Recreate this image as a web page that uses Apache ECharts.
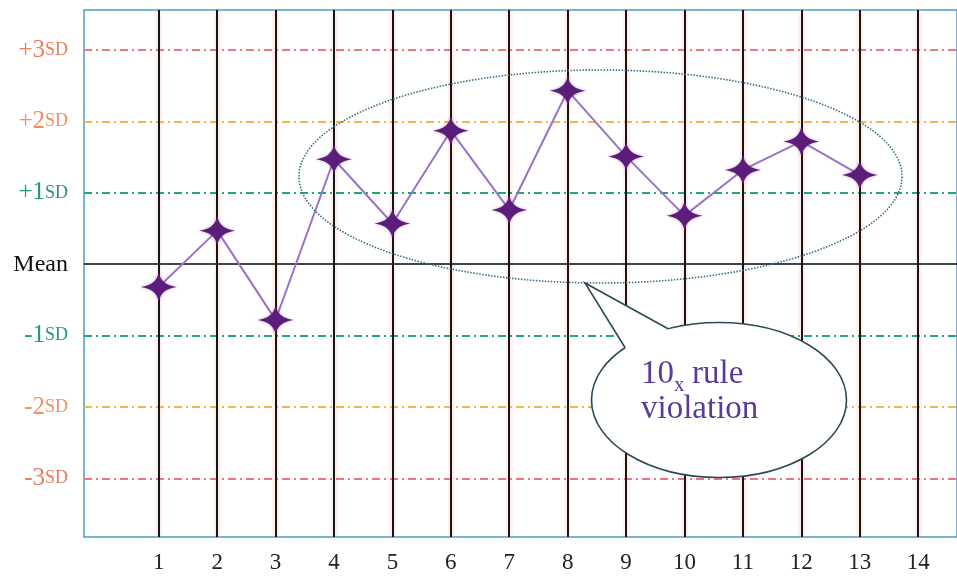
<!DOCTYPE html>
<html>
<head>
<meta charset="utf-8">
<script src="https://cdn.jsdelivr.net/npm/echarts@6/dist/echarts.min.js"></script>
<style>
html,body{margin:0;padding:0;background:#fff;}
#chart{width:957px;height:580px;}
</style>
</head>
<body>
<div id="chart"></div>
<script>
// ---- data ----
const categories = [1, 2, 3, 4, 5, 6, 7, 8, 9, 10, 11, 12, 13, 14];
const runValues = [-0.32, 0.47, -0.78, 1.47, 0.57, 1.87, 0.76, 2.43, 1.51, 0.68, 1.32, 1.72, 1.25];
const sdLevels = [-3, -2, -1, 0, 1, 2, 3];
const sdTickLabels = ['-3SD', '-2SD', '-1SD', 'Mean', '+1SD', '+2SD', '+3SD'];
const calloutLines = ['10', 'x', 'rule', 'violation'];

// ---- styles ----
const levelLineColor = {3: '#f07482', 2: '#f7b64c', 1: '#22a87c', 0: '#3c4848'};
const levelLabelStyle = {3: 'r', 2: 'o', 1: 'g', 0: 'm'};

const chart = echarts.init(document.getElementById('chart'), null, {renderer: 'canvas'});

const points = runValues.map((v, i) => [categories[i], v]);

const hLines = sdLevels.map(l => ({
  yAxis: l,
  lineStyle: l === 0
    ? {color: levelLineColor[0], width: 2, type: 'solid'}
    : {color: levelLineColor[Math.abs(l)], width: 2, type: [8, 4, 2, 4]}
}));
const vLines = categories.map(c => ({xAxis: c, lineStyle: {color: '#151515', width: 2, type: 'solid'}}));
const vHalo = categories.map(c => ({xAxis: c, lineStyle: {color: 'rgba(248,185,165,0.2)', width: 7, type: 'solid'}}));

const starPath = 'path://M0,-10 Q1.3,-1.3 12,0 Q1.3,1.3 0,10 Q-1.3,1.3 -12,0 Q-1.3,-1.3 0,-10 Z';

const serif = '"Liberation Serif", "DejaVu Serif", serif';

function labelRich(color, size) {
  return {color: color, fontFamily: serif, fontSize: size};
}

const textColor = '#5c3a98';

const option = {
  backgroundColor: '#fff',
  animation: false,
  grid: {
    left: 84, top: 10, right: -3, bottom: 43,
    show: true, borderColor: '#4a9fc0', borderWidth: 1.5, backgroundColor: '#fff'
  },
  xAxis: {
    type: 'value',
    min: -0.2796, max: 14.665,
    axisLine: {show: false},
    axisTick: {show: false},
    splitLine: {show: false},
    axisLabel: {
      customValues: categories,
      margin: 14,
      color: '#222',
      fontFamily: serif,
      fontSize: 23,
      formatter: v => String(v)
    }
  },
  yAxis: {
    type: 'value',
    min: -3.82, max: 3.56,
    axisLine: {show: false},
    axisTick: {show: false},
    splitLine: {show: false},
    axisLabel: {
      customValues: sdLevels,
      margin: 16,
      formatter: function (v) {
        const idx = sdLevels.indexOf(Math.round(v));
        if (idx < 0) return '';
        const txt = sdTickLabels[idx];
        const st = levelLabelStyle[Math.abs(Math.round(v))];
        if (txt === 'Mean') return '{m|Mean}';
        return '{' + st + '|' + txt.slice(0, 2) + '}{' + st + 's|SD}';
      },
      rich: {
        r: labelRich('#f07a5c', 25), rs: labelRich('#f07a5c', 18),
        o: labelRich('#f48e5e', 25), os: labelRich('#f48e5e', 18),
        g: labelRich('#1f9a78', 25), gs: labelRich('#1f9a78', 18),
        m: labelRich('#111', 24)
      }
    }
  },
  series: [
    {
      type: 'line',
      data: [],
      z: 1,
      silent: true,
      markLine: {
        silent: true, symbol: 'none', z: 1,
        label: {show: false},
        animation: false,
        data: vHalo
      }
    },
    {
      type: 'line',
      data: [],
      z: 2,
      silent: true,
      markLine: {
        silent: true, symbol: 'none', z: 2,
        label: {show: false},
        animation: false,
        data: hLines.concat(vLines)
      }
    },
    {
      type: 'line',
      data: points,
      z: 10,
      symbol: starPath,
      symbolSize: [36, 30],
      lineStyle: {color: '#9a72c8', width: 2},
      itemStyle: {color: '#5b1d79', shadowBlur: 3, shadowColor: 'rgba(130,50,150,0.5)'}
    }
  ],
  graphic: [
    {
      type: 'ellipse', z: 50, silent: true,
      shape: {cx: 600.5, cy: 176.5, rx: 301.5, ry: 106.5},
      style: {fill: null, stroke: '#3b6d84', lineWidth: 1.6, lineDash: [1.5, 1.5]}
    },
    {
      type: 'ellipse', z: 60, silent: true,
      shape: {cx: 719, cy: 400, rx: 127.5, ry: 77.5},
      style: {fill: '#fff', stroke: '#2b4a55', lineWidth: 1.6}
    },
    {
      type: 'polygon', z: 61, silent: true,
      shape: {points: [[585, 283], [624.5, 347], [631, 352], [673, 336], [668.5, 329]]},
      style: {fill: '#fff', stroke: null}
    },
    {
      type: 'polyline', z: 62, silent: true,
      shape: {points: [[625, 347.5], [585, 283], [668.5, 329]]},
      style: {fill: null, stroke: '#2b4a55', lineWidth: 1.6}
    },
    {
      type: 'text', z: 70, silent: true,
      x: 641, y: 374,
      style: {text: calloutLines[0], fill: textColor, font: '33px ' + serif, verticalAlign: 'middle', align: 'left'}
    },
    {
      type: 'text', z: 70, silent: true,
      x: 674, y: 385,
      style: {text: calloutLines[1], fill: textColor, font: '21px ' + serif, verticalAlign: 'middle', align: 'left'}
    },
    {
      type: 'text', z: 70, silent: true,
      x: 692, y: 374,
      style: {text: calloutLines[2], fill: textColor, font: '33px ' + serif, verticalAlign: 'middle', align: 'left'}
    },
    {
      type: 'text', z: 70, silent: true,
      x: 641, y: 409,
      style: {text: calloutLines[3], fill: textColor, font: '33px ' + serif, verticalAlign: 'middle', align: 'left'}
    }
  ]
};
chart.setOption(option);
</script>
</body>
</html>
